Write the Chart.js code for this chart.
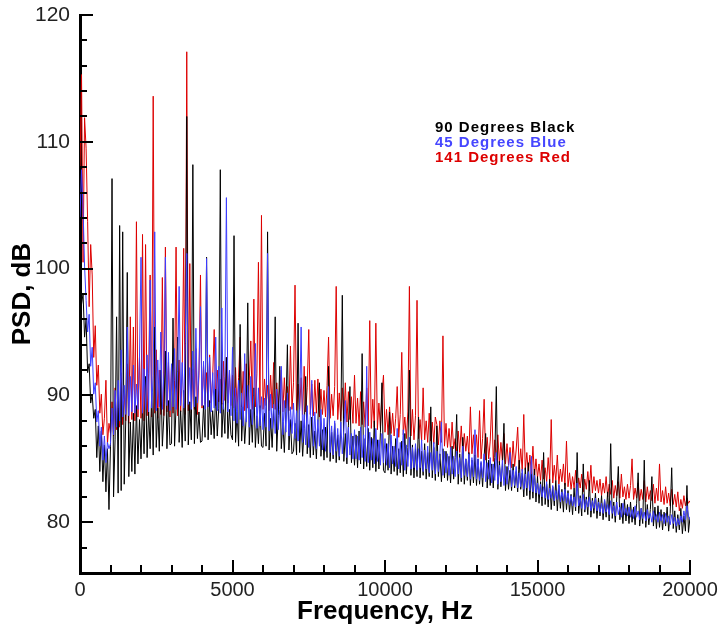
<!DOCTYPE html>
<html>
<head>
<meta charset="utf-8">
<title>PSD spectra</title>
<script src="https://cdn.jsdelivr.net/npm/chart.js@4/dist/chart.umd.min.js"></script>
<style>
  html, body { margin: 0; padding: 0; background: #fff; }
  canvas { display: block; }
</style>
</head>
<body>
<canvas id="psdChart" width="723" height="632"></canvas>
<script>
// --- data (one value every 50 Hz, 0 .. 20000 Hz) ---
const freqStep = 50;

// 90 degrees (black)
const psd90 = [
  99.5, 97.2, 98.0, 94.6, 96.0, 91.8, 92.5, 89.4, 90.1, 88.2, 88.9, 85.1, 87.6, 84.0, 87.2, 83.2, 86.1, 82.4, 85.8, 81.0,
  86.0, 107.1, 82.0, 86.5, 96.2, 82.3, 103.4, 82.5, 102.9, 83.0, 88.0, 99.7, 83.6, 87.9, 84.0, 88.6, 83.8, 89.2, 84.6, 88.1,
  85.0, 89.3, 85.4, 91.5, 85.1, 88.7, 85.8, 90.2, 85.3, 95.4, 85.9, 89.0, 85.6, 92.0, 86.0, 88.4, 93.5, 85.8, 89.6, 86.1,
  86.2, 96.1, 86.0, 89.1, 94.6, 86.3, 88.8, 85.9, 90.4, 86.4, 112.0, 86.1, 89.5, 86.5, 108.2, 86.2, 89.9, 86.6, 88.7, 86.3,
  86.4, 89.2, 86.7, 100.9, 86.5, 89.6, 86.9, 88.8, 86.6, 90.5, 86.8, 89.0, 107.8, 86.7, 89.4, 87.0, 93.0, 86.6, 88.9, 86.9,
  86.5, 102.6, 86.3, 88.7, 86.0, 95.6, 86.4, 89.1, 86.2, 88.3, 97.3, 86.1, 88.9, 86.3, 90.6, 85.9, 88.4, 86.2, 89.2, 86.0,
  85.9, 88.6, 86.0, 102.9, 85.7, 88.2, 85.9, 89.0, 96.2, 85.6, 88.4, 92.3, 85.8, 87.9, 85.5, 88.7, 94.0, 85.7, 88.1, 85.4,
  85.6, 87.8, 85.3, 95.7, 85.5, 88.0, 85.2, 87.4, 91.5, 85.4, 87.7, 85.1, 88.3, 85.3, 87.2, 85.0, 87.9, 91.0, 85.2, 87.3,
  84.9, 87.5, 85.1, 92.3, 84.8, 87.1, 85.0, 87.8, 84.7, 86.9, 84.9, 87.4, 97.9, 84.8, 87.0, 84.6, 87.6, 90.7, 84.7, 86.8,
  84.5, 86.9, 84.3, 87.2, 84.6, 93.3, 84.2, 86.6, 84.4, 87.4, 84.1, 86.7, 84.3, 88.0, 84.0, 86.5, 84.2, 87.1, 91.0, 84.1,
  83.9, 86.2, 84.1, 88.7, 83.8, 86.0, 84.0, 86.6, 83.7, 85.8, 83.9, 86.4, 83.6, 87.0, 83.8, 85.9, 92.0, 83.7, 86.1, 83.5,
  85.8, 83.6, 88.3, 83.5, 85.6, 83.7, 86.2, 83.4, 85.5, 83.6, 89.1, 83.5, 85.9, 83.3, 87.6, 83.6, 85.4, 83.2, 85.8, 83.5,
  85.6, 83.3, 85.2, 83.1, 86.0, 83.4, 85.1, 88.5, 83.0, 85.4, 83.2, 86.7, 83.0, 85.0, 83.3, 85.5, 82.9, 84.9, 83.1, 85.3,
  82.9, 85.0, 83.0, 84.7, 82.8, 85.2, 87.0, 82.7, 84.9, 82.9, 84.6, 82.7, 85.1, 90.7, 82.6, 84.8, 82.8, 84.5, 87.8, 82.5,
  84.4, 82.6, 84.1, 82.5, 84.6, 82.7, 84.0, 82.4, 84.9, 82.6, 83.9, 82.0, 84.3, 82.1, 84.7, 81.8, 83.8, 81.9, 84.2, 81.6,
  83.6, 81.5, 83.2, 81.3, 85.5, 81.4, 83.0, 81.2, 83.4, 81.0, 82.8, 81.3, 83.3, 80.9, 82.9, 81.1, 82.6, 80.8, 83.1, 81.0,
  82.5, 80.8, 82.2, 80.6, 82.7, 80.9, 85.5, 80.7, 82.1, 80.5, 84.6, 80.8, 82.0, 80.6, 83.3, 80.4, 81.9, 80.7, 82.3, 80.3,
  81.9, 80.5, 82.1, 80.2, 81.7, 80.4, 82.4, 80.1, 86.2, 80.3, 81.6, 80.0, 82.0, 84.4, 80.2, 81.5, 79.9, 81.8, 80.1, 81.4,
  79.9, 81.6, 80.0, 81.2, 79.8, 81.5, 83.9, 79.7, 81.1, 79.9, 84.9, 79.6, 81.4, 79.8, 81.0, 83.6, 79.7, 81.2, 79.5, 81.3,
  79.6, 81.0, 79.4, 80.8, 79.7, 81.2, 79.3, 80.7, 84.3, 79.5, 80.9, 79.2, 80.6, 79.4, 81.1, 79.1, 80.5, 79.3, 82.9, 79.2,
  80.4
];

// 45 degrees (blue)
const psd45 = [
  104.0, 107.8, 104.8, 100.2, 97.5, 95.0, 96.4, 92.3, 93.8, 90.1, 91.0, 87.9, 88.8, 86.0, 87.5, 84.9, 86.8, 84.7, 86.3, 85.8,
  86.2, 89.0, 86.9, 90.4, 87.5, 91.2, 88.0, 93.6, 88.3, 90.8, 88.5, 95.4, 88.4, 91.5, 88.7, 92.4, 88.6, 90.9, 88.9, 93.0,
  100.9, 88.6, 92.1, 88.9, 93.2, 88.7, 99.1, 89.0, 91.6, 102.9, 88.8, 92.8, 89.1, 95.0, 88.9, 91.8, 100.9, 89.2, 93.4, 88.8,
  92.5, 89.1, 93.7, 88.9, 91.9, 98.6, 89.2, 92.6, 89.0, 94.1, 101.2, 89.3, 92.2, 88.9, 93.5, 89.1, 95.3, 89.4, 92.0, 97.0,
  89.2, 92.7, 88.9, 100.8, 89.1, 93.0, 88.7, 91.8, 89.0, 94.6, 88.8, 92.3, 88.6, 96.9, 88.9, 91.5, 105.6, 88.7, 92.0, 88.4,
  93.8, 88.0, 90.6, 87.8, 91.2, 88.1, 90.2, 87.6, 93.3, 87.9, 90.8, 87.5, 91.5, 87.7, 90.0, 94.1, 87.4, 90.6, 87.6, 89.9,
  87.3, 89.8, 87.5, 101.2, 87.2, 90.1, 87.4, 89.3, 87.0, 90.5, 87.3, 88.9, 92.3, 86.9, 89.6, 87.1, 90.2, 86.8, 89.1, 87.0,
  89.4, 86.6, 88.8, 86.4, 89.0, 95.4, 86.3, 88.5, 86.1, 89.2, 85.9, 88.3, 91.2, 86.0, 88.7, 85.8, 88.1, 86.0, 88.9, 85.7,
  88.2, 85.6, 87.9, 90.7, 85.5, 87.6, 85.3, 88.0, 85.6, 87.4, 85.2, 87.9, 85.4, 87.2, 89.6, 85.1, 87.5, 85.3, 87.0, 85.0,
  87.3, 85.0, 86.8, 84.9, 87.5, 85.1, 86.9, 84.8, 92.3, 84.7, 87.1, 84.9, 86.6, 84.6, 87.4, 84.8, 86.5, 84.5, 87.0, 84.7,
  86.6, 84.5, 86.2, 84.3, 86.9, 84.6, 86.0, 84.4, 87.4, 84.2, 86.3, 84.5, 87.3, 84.1, 86.1, 84.4, 86.7, 84.2, 85.9, 84.3,
  86.2, 84.1, 85.8, 84.3, 86.5, 84.0, 85.7, 84.2, 86.0, 83.9, 85.5, 84.1, 86.3, 83.8, 85.6, 84.0, 85.4, 87.9, 83.7, 85.6,
  83.9, 85.4, 83.7, 85.9, 83.8, 85.2, 83.6, 85.6, 83.8, 85.1, 83.5, 86.0, 83.7, 85.0, 83.6, 85.4, 83.4, 85.1, 83.6, 87.3,
  83.4, 85.0, 83.3, 84.8, 83.5, 85.4, 83.2, 84.7, 83.4, 85.1, 83.1, 84.6, 83.3, 85.5, 83.0, 84.5, 83.2, 84.9, 82.9, 84.4,
  83.0, 84.3, 85.5, 82.8, 84.1, 82.9, 84.4, 82.7, 83.9, 82.8, 84.2, 82.6, 83.8, 82.7, 84.0, 82.5, 85.2, 82.4, 83.7, 82.3,
  83.1, 82.2, 83.0, 82.0, 82.8, 81.9, 83.2, 81.8, 82.7, 81.9, 82.9, 81.7, 82.5, 81.8, 83.0, 81.6, 82.4, 81.7, 82.6, 81.5,
  82.3, 81.4, 82.1, 81.3, 82.0, 81.2, 83.1, 81.3, 81.9, 81.1, 82.2, 81.0, 81.8, 81.2, 82.0, 80.9, 81.7, 81.1, 81.9, 80.9,
  81.6, 80.8, 81.5, 80.7, 81.8, 80.8, 81.4, 80.6, 81.7, 80.7, 81.3, 80.5, 81.6, 80.6, 81.2, 80.4, 81.5, 80.6, 81.1, 80.5,
  81.2, 80.4, 81.0, 80.3, 81.3, 80.4, 80.9, 80.2, 81.1, 80.3, 80.8, 80.1, 81.0, 80.3, 80.7, 80.0, 80.9, 80.2, 80.6, 80.0,
  80.8, 80.1, 80.6, 79.9, 80.7, 80.0, 80.5, 79.8, 80.6, 79.9, 80.4, 79.7, 80.3, 79.8, 80.5, 80.0, 80.9, 80.2, 81.3, 80.5,
  80.2
];

// 141 degrees (red)
const psd141 = [
  108.0, 115.3, 100.5, 111.9, 109.5, 103.7, 97.0, 101.9, 99.5, 93.0, 95.5, 90.8, 92.4, 88.6, 90.1, 86.9, 88.2, 91.2, 86.2, 87.8,
  87.0, 89.5, 86.8, 90.6, 87.3, 89.0, 87.5, 91.8, 87.7, 90.4, 88.0, 92.5, 87.8, 96.2, 88.1, 95.4, 88.0, 103.7, 88.3, 93.0,
  88.2, 102.7, 88.0, 101.9, 88.4, 91.7, 99.5, 88.3, 113.6, 88.6, 93.6, 88.2, 92.0, 88.5, 99.3, 88.4, 101.7, 88.7, 92.6, 88.3,
  92.3, 88.6, 91.2, 101.7, 88.4, 92.8, 88.7, 91.5, 101.6, 88.5, 117.1, 88.8, 100.4, 88.6, 92.1, 88.9, 93.7, 88.5, 91.6, 99.5,
  89.0, 92.4, 89.3, 91.8, 89.1, 93.2, 89.4, 91.5, 95.2, 89.2, 92.0, 89.5, 91.3, 89.3, 92.7, 89.6, 93.0, 89.4, 91.9, 89.2,
  91.6, 89.0, 92.2, 88.9, 91.4, 94.6, 89.1, 91.9, 88.8, 92.5, 89.0, 91.2, 94.3, 88.9, 97.6, 89.1, 91.7, 100.5, 89.0, 104.2,
  88.9, 91.3, 89.2, 90.8, 88.8, 91.6, 89.0, 92.6, 88.9, 91.0, 89.1, 90.6, 92.0, 88.7, 91.4, 89.0, 90.7, 88.8, 93.9, 88.9,
  91.0, 98.7, 88.6, 90.9, 88.8, 91.4, 88.5, 92.3, 88.7, 90.6, 95.2, 88.5, 90.9, 88.4, 91.2, 88.6, 91.3, 88.3, 90.5, 88.5,
  90.4, 88.3, 90.8, 94.6, 88.2, 90.1, 88.4, 90.7, 98.6, 88.1, 90.2, 88.0, 90.6, 88.2, 91.0, 87.9, 90.3, 88.1, 89.9, 87.8,
  91.6, 87.8, 89.8, 87.6, 90.3, 87.7, 89.5, 87.5, 90.6, 87.6, 95.9, 87.4, 89.7, 87.5, 95.7, 87.3, 89.4, 87.4, 90.1, 91.6,
  87.1, 88.9, 86.9, 89.1, 87.0, 88.6, 86.8, 88.2, 90.7, 86.7, 88.5, 93.4, 86.9, 88.3, 86.6, 88.7, 98.6, 86.8, 88.9, 86.5,
  88.4, 97.5, 86.6, 88.1, 86.4, 90.6, 86.5, 88.0, 86.3, 88.6, 86.4, 87.9, 86.2, 88.3, 87.7, 86.1, 88.0, 86.3, 94.7, 86.0,
  87.8, 85.9, 87.4, 85.7, 87.9, 85.8, 86.6, 85.6, 87.2, 85.5, 87.6, 85.4, 87.0, 85.6, 86.8, 85.3, 89.1, 85.4, 86.9, 85.2,
  86.9, 85.1, 88.8, 85.0, 86.6, 89.7, 84.9, 86.7, 85.0, 86.4, 89.5, 84.8, 86.5, 84.9, 86.9, 84.7, 86.3, 84.8, 87.0, 84.6,
  86.2, 84.5, 85.9, 84.3, 86.4, 84.4, 85.7, 87.5, 84.2, 85.8, 84.0, 88.5, 84.1, 85.5, 83.9, 85.3, 83.8, 86.0, 83.6, 85.0,
  83.5, 84.6, 83.3, 84.9, 83.4, 84.3, 83.2, 85.1, 83.4, 88.1, 83.1, 84.5, 83.3, 85.3, 83.0, 84.2, 83.2, 84.6, 82.9, 86.4,
  82.8, 83.9, 82.6, 83.6, 82.7, 84.1, 82.5, 83.5, 82.7, 83.8, 82.4, 83.4, 82.6, 84.0, 82.5, 84.5, 82.3, 83.6, 82.5, 83.3,
  82.3, 83.4, 82.1, 83.1, 82.3, 83.6, 82.0, 83.0, 82.2, 83.3, 81.9, 82.9, 82.1, 83.2, 81.9, 83.8, 82.0, 82.8, 81.8, 83.0,
  81.9, 82.9, 85.0, 81.8, 82.7, 81.9, 83.1, 81.7, 82.6, 81.8, 83.3, 81.6, 82.8, 81.8, 82.5, 81.7, 83.0, 81.5, 82.7, 81.7,
  84.6, 81.6, 82.5, 81.4, 82.8, 81.5, 82.3, 81.3, 82.6, 81.4, 82.2, 81.2, 82.4, 80.9, 81.8, 81.1, 82.1, 81.3, 81.9, 81.5,
  81.7
];

// axis ticks
const xTicks      = [0, 5000, 10000, 15000, 20000];
const xMinorTicks = [1000, 2000, 3000, 4000, 6000, 7000, 8000, 9000, 11000, 12000, 13000, 14000, 16000, 17000, 18000, 19000];
const yTicks      = [80, 90, 100, 110, 120];
const yMinorTicks = [78, 82, 84, 86, 88, 92, 94, 96, 98, 102, 104, 106, 108, 112, 114, 116, 118];

const seriesNames  = ['90 Degrees Black', '45 Degrees Blue', '141 Degrees Red'];
const seriesColors = ['#000000', '#3c3cff', '#dd0000'];
const legendColors = ['#000000', '#4646ff', '#dd0000'];

// frequency grid the values were sampled on
const freq = psd90.map((_, i) => i * freqStep);

const FONT = "'Liberation Sans', Arial, Helvetica, sans-serif";
Chart.defaults.font.family = FONT;

// inward tick marks (Chart.js only draws outward ones)
const innerTicks = {
  id: 'innerTicks',
  afterDraw(chart) {
    const { ctx, chartArea: a, scales: { x, y } } = chart;
    ctx.save();
    ctx.strokeStyle = '#000';
    ctx.lineWidth = 2;
    ctx.beginPath();
    const yMark = (v, len) => {
      const p = Math.round(y.getPixelForValue(v));
      ctx.moveTo(a.left, p);
      ctx.lineTo(a.left + len, p);
    };
    const xMark = (v, len) => {
      const p = Math.round(x.getPixelForValue(v));
      ctx.moveTo(p, a.bottom);
      ctx.lineTo(p, a.bottom - len);
    };
    yTicks.forEach(v => yMark(v, 13));
    yMinorTicks.forEach(v => yMark(v, 7));
    xTicks.forEach(v => xMark(v, 13));
    xMinorTicks.forEach(v => xMark(v, 8));
    ctx.stroke();
    ctx.restore();
  }
};

// text legend in the upper right
const textLegend = {
  id: 'textLegend',
  afterDraw(chart) {
    const { ctx, chartArea: a } = chart;
    ctx.save();
    ctx.font = 'bold 15px ' + FONT;
    if ('letterSpacing' in ctx) ctx.letterSpacing = '1px';
    ctx.textAlign = 'left';
    ctx.textBaseline = 'alphabetic';
    chart.data.datasets.forEach((ds, i) => {
      ctx.fillStyle = legendColors[i];
      ctx.fillText(ds.label, a.left + 355, a.top + 117 + i * 15);
    });
    ctx.restore();
  }
};

const makeSet = (i, values, order) => ({
  label: seriesNames[i],
  data: values,
  borderColor: seriesColors[i],
  borderWidth: 1,
  pointRadius: 0,
  tension: 0,
  fill: false,
  order
});

// blue on top, then black, red underneath
new Chart(document.getElementById('psdChart'), {
  type: 'line',
  data: {
    labels: freq,
    datasets: [
      makeSet(0, psd90, 1),
      makeSet(1, psd45, 0),
      makeSet(2, psd141, 2)
    ]
  },
  options: {
    responsive: false,
    animation: false,
    devicePixelRatio: 1,
    layout: { padding: { left: 0, top: 15, right: 33, bottom: 0 } },
    plugins: {
      legend: { display: false },
      tooltip: { enabled: false }
    },
    scales: {
      x: {
        type: 'linear',
        min: 0,
        max: 20000,
        grid: { display: false, drawTicks: false },
        border: { display: true, color: '#000', width: 3 },
        afterBuildTicks: s => { s.ticks = xTicks.map(v => ({ value: v })); },
        afterFit: s => { s.height = 59; s.paddingLeft = 0; s.paddingRight = 0; },
        ticks: {
          color: '#222',
          font: { size: 20 },
          padding: 5,
          maxRotation: 0,
          autoSkip: false,
          callback: v => String(v)
        },
        title: {
          display: true,
          text: 'Frequency, Hz',
          color: '#000',
          font: { size: 26, weight: 'bold' },
          padding: { top: 0, bottom: 5 }
        }
      },
      y: {
        min: 76,
        max: 120,
        grid: { display: false, drawTicks: false },
        border: { display: true, color: '#000', width: 3 },
        afterBuildTicks: s => { s.ticks = yTicks.map(v => ({ value: v })); },
        afterFit: s => { s.width = 80; s.paddingTop = 0; s.paddingBottom = 0; },
        ticks: {
          color: '#222',
          font: { size: 21 },
          padding: 10,
          callback: v => String(v)
        },
        title: {
          display: true,
          text: 'PSD, dB',
          color: '#000',
          font: { size: 26, weight: 'bold' },
          padding: { top: 7, bottom: 0 }
        }
      }
    }
  },
  plugins: [innerTicks, textLegend]
});
</script>
</body>
</html>
